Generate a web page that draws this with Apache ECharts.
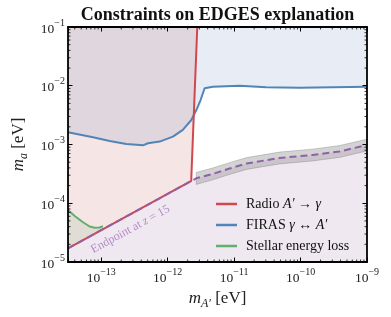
<!DOCTYPE html>
<html><head><meta charset="utf-8">
<script src="https://cdn.jsdelivr.net/npm/echarts@6/dist/echarts.min.js"></script>
<style>html,body{margin:0;padding:0;background:#fff}#c{width:391px;height:317px}</style>
</head><body><div id="c"></div>
<script>
const X_MIN = 3.1623e-14, X_MAX = 1e-9, Y_MIN = 1e-5, Y_MAX = 1e-1;
const xTickExps = [-13, -12, -11, -10, -9];
const yTickExps = [-5, -4, -3, -2, -1];

// Radio A' -> gamma boundary (vertical part then diagonal)
const radioX = [2.79e-12, 2.27e-12, 2.27e-12, 3.1623e-14];
const radioY = [1e-1, 2.77e-4, 2.41e-4, 1.71e-5];

// FIRAS boundary
const firasX = [3.1623e-14, 7.52e-14, 1.34e-13, 2.39e-13, 4.25e-13, 5.05e-13, 7.57e-13, 1.20e-12, 1.69e-12, 2.27e-12, 2.70e-12, 3.13e-12, 3.60e-12, 4.79e-12, 1.21e-11, 3.04e-11, 9.64e-11, 1e-9];
const firasY = [1.61e-3, 1.33e-3, 1.15e-3, 1.02e-3, 9.68e-4, 1.05e-3, 1.12e-3, 1.36e-3, 1.77e-3, 2.61e-3, 3.86e-3, 5.71e-3, 9.06e-3, 9.64e-3, 1.00e-2, 9.42e-3, 9.27e-3, 9.64e-3];

// Stellar energy loss
const stellarX = [3.1623e-14, 3.99e-14, 5.26e-14, 6.70e-14, 7.98e-14, 9.48e-14, 1.06e-13];
const stellarY = [7.67e-5, 6.07e-5, 4.80e-5, 4.02e-5, 3.84e-5, 3.86e-5, 4.06e-5];
const stellarBaseX = [1.06e-13, 3.1623e-14];
const stellarBaseY = [3.62e-5, 1.71e-5];

// Endpoint at z = 15
const endpointX = [3.1623e-14, 2.69e-12, 4.74e-12, 8.55e-12, 1.54e-11, 4.82e-11, 1.51e-10, 3.85e-10, 1e-9];
const endpointY = [1.71e-5, 2.66e-4, 3.15e-4, 3.90e-4, 4.75e-4, 5.89e-4, 6.62e-4, 7.60e-4, 9.8e-4];

// uncertainty band
const bandX = [2.69e-12, 4.74e-12, 8.55e-12, 1.54e-11, 4.82e-11, 1.51e-10, 3.85e-10, 1e-9];
const bandLow = [2.09e-4, 2.50e-4, 3.10e-4, 3.77e-4, 4.67e-4, 5.25e-4, 6.03e-4, 7.78e-4];
const bandHigh = [3.35e-4, 3.97e-4, 4.91e-4, 5.98e-4, 7.42e-4, 8.34e-4, 9.58e-4, 1.23e-3];

const labelPos = [2.75e-13, 3.6e-5];

const legendNames = ['Radio', 'FIRAS', 'Stellar'];
const legendTexts = {
  Radio: 'Radio {i|A\u2032} \u2192 {i|\u03b3}',
  FIRAS: 'FIRAS {i|\u03b3} \u2194 {i|A\u2032}',
  Stellar: 'Stellar energy loss'
};

const SERIF = 'Liberation Serif';
const chart = echarts.init(document.getElementById('c'), null, {renderer: 'canvas'});

function poly(xs, ys, fill, z, stroke) {
  return {
    type: 'custom', silent: true, z: z, coordinateSystem: 'cartesian2d',
    data: xs.map((x, i) => [x, ys[i]]),
    renderItem(params, api) {
      if (params.dataIndex !== 0) return;
      const pts = xs.map((x, i) => api.coord([x, ys[i]]));
      return {type: 'polygon', shape: {points: pts},
        style: {fill: fill, stroke: stroke || null, lineWidth: stroke ? 0.8 : 0}};
    }
  };
}
function line(name, xs, ys, color, z, dash) {
  return {
    type: 'line', name: name, z: z, showSymbol: false, symbol: 'none', smooth: false,
    data: xs.map((x, i) => [x, ys[i]]),
    itemStyle: {color: color},
    lineStyle: {color: color, width: 2, type: dash ? [7, 4] : 'solid'},
    emphasis: {disabled: true}
  };
}
function fmt(exps) {
  return function (v) {
    const l = Math.log10(v), e = Math.round(l);
    if (Math.abs(l - e) > 1e-6 || exps.indexOf(e) < 0) return '';
    return '{b|10}{s|\u2212' + Math.abs(e) + '}';
  };
}
const tickRich = {
  b: {fontFamily: SERIF, fontSize: 13.5, color: '#222', lineHeight: 18, verticalAlign: 'bottom'},
  s: {fontFamily: SERIF, fontSize: 10, color: '#222', lineHeight: 9, verticalAlign: 'top'}
};
const nameRich = {
  m: {fontFamily: SERIF, fontSize: 17, fontStyle: 'italic', color: '#222', lineHeight: 22, verticalAlign: 'middle'},
  sub: {fontFamily: SERIF, fontSize: 12, fontStyle: 'italic', color: '#222', lineHeight: 13, verticalAlign: 'bottom'},
  t: {fontFamily: SERIF, fontSize: 17, color: '#222', lineHeight: 22, verticalAlign: 'middle'}
};
function axisCommon(extra) {
  return Object.assign({
    type: 'log', logBase: 10, z: 12,
    axisLine: {onZero: false, lineStyle: {color: '#000', width: 1.8}},
    axisTick: {inside: true, length: 4.5, lineStyle: {color: '#000', width: 1}},
    splitLine: {show: false},
    minorTick: {show: false}
  }, extra);
}

const minorX = [], minorY = [];
for (let k = -14; k <= -10; k++) for (let m = 2; m <= 9; m++) { const v = m * Math.pow(10, k); if (v > X_MIN && v < X_MAX) minorX.push([v, Y_MIN]); }
for (let k = -5; k <= -2; k++) for (let m = 2; m <= 9; m++) { const v = m * Math.pow(10, k); if (v > Y_MIN && v < Y_MAX) minorY.push([X_MIN, v]); }

const option = {
  animation: false,
  backgroundColor: '#fff',
  graphic: [{type: 'text', x: 217.5, y: 15, z: 20,
    style: {text: 'Constraints on EDGES explanation', fontFamily: SERIF, fontWeight: 'bold', fontSize: 18, fill: '#111', align: 'center', verticalAlign: 'middle'}}],
  grid: {left: 68, right: 24, top: 27, bottom: 55, containLabel: false},
  legend: {
    data: legendNames, orient: 'vertical', left: 211, top: 191, itemWidth: 21, itemHeight: 2.5,
    itemGap: 5, icon: 'rect', selectedMode: false,
    formatter: n => legendTexts[n],
    textStyle: {fontFamily: SERIF, fontSize: 14, color: '#111', lineHeight: 16, padding: [0, 0, 0, 4],
      rich: {i: {fontFamily: SERIF, fontSize: 14, fontStyle: 'italic', color: '#111'}}}
  },
  xAxis: [
    axisCommon({min: X_MIN, max: X_MAX, position: 'bottom',
      axisLabel: {formatter: fmt(xTickExps), margin: 5, rich: tickRich},
      name: '{m|m}{sub|A\u2032}{t| [eV]}', nameLocation: 'middle', nameGap: 19,
      nameTextStyle: {rich: nameRich}}),
    axisCommon({min: X_MIN, max: X_MAX, position: 'top', axisLabel: {show: false}})
  ],
  yAxis: [
    axisCommon({min: Y_MIN, max: Y_MAX, position: 'left',
      axisLabel: {formatter: fmt(yTickExps), margin: 3, rich: tickRich},
      name: '{m|m}{sub|a}{t| [eV]}', nameLocation: 'middle', nameGap: 37,
      nameTextStyle: {rich: nameRich}}),
    axisCommon({min: Y_MIN, max: Y_MAX, position: 'right', axisLabel: {show: false}})
  ],
  series: [
    poly(endpointX.concat([X_MAX, X_MIN]), endpointY.concat([Y_MIN, Y_MIN]), '#efe8f1', 1),
    poly([X_MIN].concat(radioX), [Y_MAX].concat(radioY), 'rgba(196,78,82,0.15)', 2),
    poly(firasX.concat([X_MAX, X_MIN]), firasY.concat([Y_MAX, Y_MAX]), 'rgba(76,114,176,0.13)', 3),
    poly(stellarX.concat(stellarBaseX), stellarY.concat(stellarBaseY), 'rgba(85,168,104,0.13)', 4),
    poly(bandX.concat(bandX.slice().reverse()), bandHigh.concat(bandLow.slice().reverse()), 'rgba(140,140,140,0.38)', 5, 'rgba(120,120,120,0.45)'),
    line('FIRAS', firasX, firasY, '#5185b8', 6),
    line('Stellar', stellarX, stellarY, '#5faf6e', 6),
    line('Radio', radioX, radioY, '#d0484e', 7),
    line('Endpoint', endpointX, endpointY, '#9160a8', 8, true),
    {
      type: 'custom', silent: true, z: 9, coordinateSystem: 'cartesian2d', data: [labelPos],
      renderItem(params, api) {
        const p = api.coord([api.value(0), api.value(1)]);
        return {type: 'text', x: p[0], y: p[1], rotation: 0.5,
          style: {text: 'Endpoint at {i|z} = 15', fontFamily: SERIF, fontSize: 12, fill: '#b58ac6',
            align: 'center', verticalAlign: 'middle',
            rich: {i: {fontFamily: SERIF, fontSize: 12, fontStyle: 'italic', fill: '#b58ac6'}}}};
      }
    },
    {
      type: 'custom', silent: true, z: 10, coordinateSystem: 'cartesian2d', data: minorX,
      renderItem(params, api) {
        const v = api.value(0);
        const b = api.coord([v, Y_MIN]), t = api.coord([v, Y_MAX]);
        const st = {stroke: '#000', lineWidth: 0.8};
        return {type: 'group', children: [
          {type: 'line', shape: {x1: b[0], y1: b[1], x2: b[0], y2: b[1] - 2.5}, style: st},
          {type: 'line', shape: {x1: t[0], y1: t[1], x2: t[0], y2: t[1] + 2.5}, style: st}]};
      }
    },
    {
      type: 'custom', silent: true, z: 10, coordinateSystem: 'cartesian2d', data: minorY,
      renderItem(params, api) {
        const v = api.value(1);
        const l = api.coord([X_MIN, v]), r = api.coord([X_MAX, v]);
        const st = {stroke: '#000', lineWidth: 0.8};
        return {type: 'group', children: [
          {type: 'line', shape: {x1: l[0], y1: l[1], x2: l[0] + 2.5, y2: l[1]}, style: st},
          {type: 'line', shape: {x1: r[0], y1: r[1], x2: r[0] - 2.5, y2: r[1]}, style: st}]};
      }
    }
  ]
};
chart.setOption(option);
</script>
</body></html>
